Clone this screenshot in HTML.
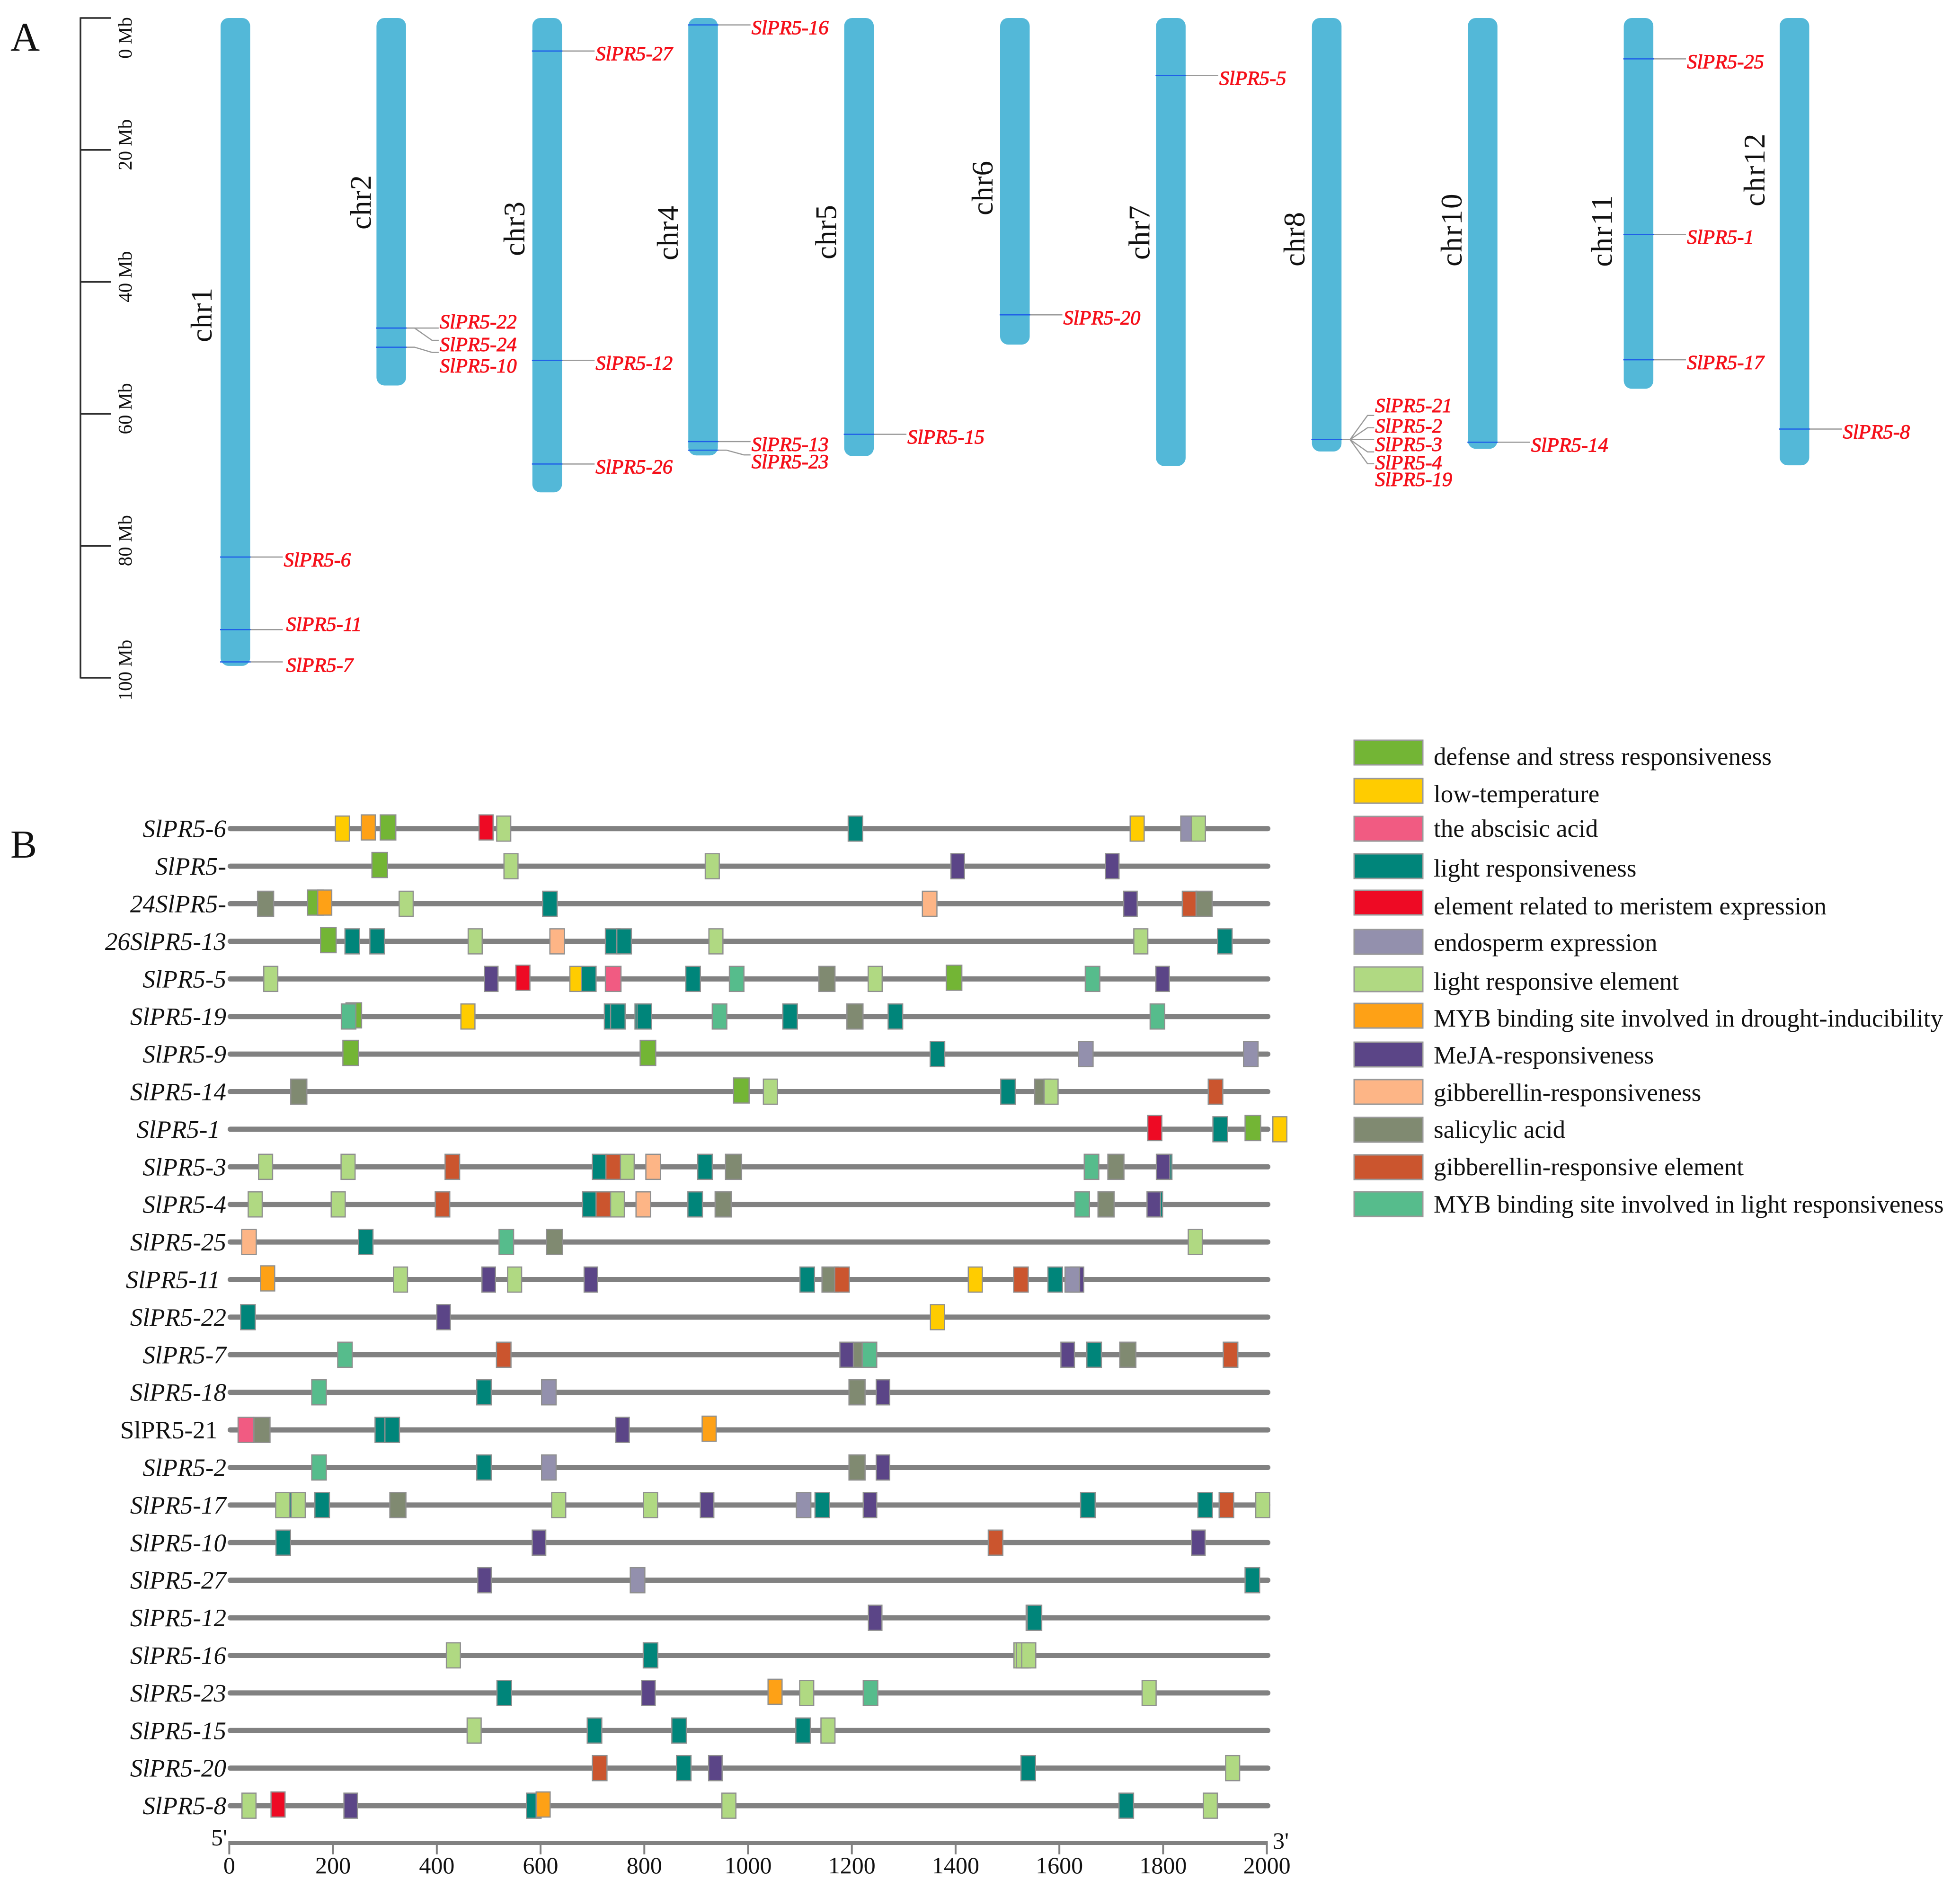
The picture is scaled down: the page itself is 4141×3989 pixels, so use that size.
<!DOCTYPE html>
<html lang="en">
<head>
<meta charset="utf-8">
<title>SlPR5 chromosome map and promoter elements</title>
<style>
html,body{margin:0;padding:0;background:#fff;}
svg{display:block;}
text{font-family:"Liberation Serif","Noto Serif CJK SC",serif;fill:#111;}
</style>
</head>
<body>
<svg id="fig" xmlns="http://www.w3.org/2000/svg" width="4141" height="3989" viewBox="0 0 4141 3989">
  <rect x="0" y="0" width="4141" height="3989" fill="#fff"/>
  <text x="22" y="107" font-size="86">A</text>
  <text x="22" y="1812" font-size="84">B</text>
  <g id="panelA"></g>
  <g id="panelB"></g>
  <g stroke-width="0">
    <g><rect x="2861" y="1564" width="145" height="52" fill="#73b535" stroke="#999" stroke-width="3"/><text x="3029" y="1616" font-size="53">defense and stress responsiveness</text></g>
    <g><rect x="2861" y="1645" width="145" height="52" fill="#ffcc00" stroke="#999" stroke-width="3"/><text x="3029" y="1695" font-size="53">low-temperature</text></g>
    <g><rect x="2861" y="1725" width="145" height="52" fill="#f15b82" stroke="#999" stroke-width="3"/><text x="3029" y="1768" font-size="53">the abscisic acid</text></g>
    <g><rect x="2861" y="1804" width="145" height="52" fill="#00857a" stroke="#999" stroke-width="3"/><text x="3029" y="1852" font-size="53">light responsiveness</text></g>
    <g><rect x="2861" y="1881" width="145" height="52" fill="#ee0a24" stroke="#999" stroke-width="3"/><text x="3029" y="1932" font-size="53">element related to meristem expression</text></g>
    <g><rect x="2861" y="1964" width="145" height="52" fill="#9390ad" stroke="#999" stroke-width="3"/><text x="3029" y="2009" font-size="53">endosperm expression</text></g>
    <g><rect x="2861" y="2043" width="145" height="52" fill="#b0d982" stroke="#999" stroke-width="3"/><text x="3029" y="2091" font-size="53">light responsive element</text></g>
    <g><rect x="2861" y="2120" width="145" height="52" fill="#fea116" stroke="#999" stroke-width="3"/><text x="3029" y="2169" font-size="53">MYB binding site involved in drought-inducibility</text></g>
    <g><rect x="2861" y="2202" width="145" height="52" fill="#5b4587" stroke="#999" stroke-width="3"/><text x="3029" y="2247" font-size="53">MeJA-responsiveness</text></g>
    <g><rect x="2861" y="2281" width="145" height="52" fill="#fdb586" stroke="#999" stroke-width="3"/><text x="3029" y="2326" font-size="53">gibberellin-responsiveness</text></g>
    <g><rect x="2861" y="2361" width="145" height="52" fill="#808a71" stroke="#999" stroke-width="3"/><text x="3029" y="2404" font-size="53">salicylic acid</text></g>
    <g><rect x="2861" y="2440" width="145" height="52" fill="#cb552e" stroke="#999" stroke-width="3"/><text x="3029" y="2483" font-size="53">gibberellin-responsive element</text></g>
    <g><rect x="2861" y="2518" width="145" height="52" fill="#56bc8c" stroke="#999" stroke-width="3"/><text x="3029" y="2562" font-size="53">MYB binding site involved in light responsiveness</text></g>
  </g>
</svg>
<script>
/* ---------- Panel A data ---------- */
const chrNames = ['chr1','chr2','chr3','chr4','chr5','chr6','chr7','chr8','chr10','chr11','chr12'];
const chrLengthMb = [98.2,55.7,71.9,66.3,66.4,49.5,67.9,65.7,65.3,56.2,67.8];
const scaleTicksMb = [0,20,40,60,80,100];
const scaleTickLabels = ['0 Mb','20 Mb','40 Mb','60 Mb','80 Mb','100 Mb'];
const locusNames = ['SlPR5-6','SlPR5-11','SlPR5-7','SlPR5-22','SlPR5-24','SlPR5-10','SlPR5-27','SlPR5-12','SlPR5-26','SlPR5-16','SlPR5-13','SlPR5-23','SlPR5-15','SlPR5-20','SlPR5-5','SlPR5-21','SlPR5-2','SlPR5-3','SlPR5-4','SlPR5-19','SlPR5-14','SlPR5-25','SlPR5-1','SlPR5-17','SlPR5-8'];
const locusChr = [0,0,0,1,1,1,2,2,2,3,3,3,4,5,6,7,7,7,7,7,8,9,9,9,10];
const locusMb = [81.7,92.7,97.6,47.0,47.0,49.9,5.0,51.9,67.6,1.05,64.2,65.5,63.1,45.0,8.7,63.9,63.9,63.9,63.9,63.9,64.3,6.2,32.8,51.8,62.3];

/* ---------- Panel B data ---------- */
const geneLabels = ['SlPR5-6','SlPR5-','24SlPR5-','26SlPR5-13','SlPR5-5','SlPR5-19','SlPR5-9','SlPR5-14','SlPR5-1','SlPR5-3','SlPR5-4','SlPR5-25','SlPR5-11','SlPR5-22','SlPR5-7','SlPR5-18','SlPR5-21','SlPR5-2','SlPR5-17','SlPR5-10','SlPR5-27','SlPR5-12','SlPR5-16','SlPR5-23','SlPR5-15','SlPR5-20','SlPR5-8'];
const elementColors = ['#73b535','#ffcc00','#f15b82','#00857a','#ee0a24','#9390ad','#b0d982','#fea116','#5b4587','#fdb586','#808a71','#cb552e','#56bc8c'];
const elementLengthBp = [30,27,30,28,27,28,27,27,26,28,31,28,28];
const motifCenters = [
 [218,268,306,495,529,1207,1750,1848,1868],
 [290,543,931,1404,1702],
 [70,166,184,341,618,1350,1737,1851,1879],
 [191,237,285,474,632,739,761,938,1757,1919],
 [80,505,566,670,693,740,894,978,1152,1245,1397,1664,1799],
 [240,230,460,737,749,796,800,945,1081,1206,1284,1789],
 [234,807,1365,1651,1969],
 [134,987,1043,1501,1568,1584,1901],
 [1784,1910,1973,2025],
 [70,229,430,714,767,740,817,917,972,1662,1709,1803,1800],
 [50,210,411,695,748,721,798,898,952,1644,1690,1785,1782],
 [38,263,534,627,1862],
 [74,330,500,550,697,1114,1158,1181,1438,1526,1592,1634,1625],
 [36,413,1365],
 [223,529,1215,1190,1234,1616,1667,1732,1930],
 [173,491,616,1210,1260],
 [32,63,295,314,758,925],
 [173,491,616,1210,1260],
 [118,103,133,179,325,635,812,921,1107,1143,1235,1655,1881,1922,1992],
 [104,597,1477,1868],
 [492,787,1972],
 [1245,1549,1552],
 [432,812,1526,1531,1541],
 [530,808,1052,1113,1236,1773],
 [472,704,867,1106,1154],
 [714,876,937,1540,1934],
 [38,94,234,587,605,963,1729,1891]
];
const motifTypes = [
 [1,7,0,4,6,3,1,5,6],
 [0,6,6,8,8],
 [10,0,7,6,3,9,8,11,10],
 [0,3,3,6,9,3,3,6,6,3],
 [6,8,4,1,3,2,3,12,10,6,0,12,8],
 [0,12,1,3,3,3,3,12,3,10,3,12],
 [0,0,3,5,5],
 [10,0,6,3,10,6,11],
 [4,3,0,1],
 [6,6,11,3,6,11,9,3,10,12,10,3,8],
 [6,6,11,3,6,11,9,3,10,12,10,3,8],
 [9,3,12,10,6],
 [7,6,8,6,8,3,10,11,1,11,3,8,5],
 [3,8,1],
 [12,11,10,8,12,8,3,10,11],
 [12,3,5,10,8],
 [2,10,3,3,8,7],
 [12,3,5,10,8],
 [3,6,6,3,10,6,6,8,5,3,8,3,3,11,6],
 [3,8,11,8],
 [8,5,3],
 [8,8,3],
 [6,3,6,6,6],
 [3,8,7,6,12,6],
 [6,3,3,3,6],
 [11,3,8,3,6],
 [6,4,8,3,7,6,3,6]
];
const axisTicksBp = [0,200,400,600,800,1000,1200,1400,1600,1800,2000];

/* ---------- Scales ---------- */
const mbY = mb => 38 + 13.94 * mb;
const chrX = i => 466 + 329.4 * i;
const CHR_W = 62.5;
const bpX = bp => 484.4 + 1.0961 * bp;
const rowY = i => 1750.7 + 79.4 * i;

/* ---------- Label layout (not data) ---------- */
const chrLabelLayout = {chr1:[19,665],chr2:[12,427],chr3:[17,483],chr4:[22,492],chr5:[17,490],chr6:[16,397],chr7:[14,491],chr8:[16,505],chr10:[13,485],chr11:[25,487],chr12:[32,358]};
const labelLayout = {
 'SlPR5-11':{dx:5,base:3},'SlPR5-7':{dx:5,base:21},
 'SlPR5-22':{base:1},'SlPR5-24':{base:49,elbow:26},'SlPR5-10':{base:53.5,elbow:11},
 'SlPR5-23':{base:38.5,elbow:10},
 'SlPR5-21':{base:-58,elbow:-51},'SlPR5-2':{base:-15,elbow:-25},'SlPR5-3':{base:24},'SlPR5-4':{base:62.5,elbow:26},'SlPR5-19':{base:98,elbow:51}
};
const geneLabelShift = {8:-13,12:-13,16:-18};

const NS = 'http://www.w3.org/2000/svg';
const mk = tag => document.createElementNS(NS, tag);
const panelA = document.getElementById('panelA');
const panelB = document.getElementById('panelB');

/* ---------- Panel A: scale bar ---------- */
const scaleAxis = mk('line');


scaleAxis.setAttribute('x1', 170);
scaleAxis.setAttribute('x2', 170);
scaleAxis.setAttribute('y1', mbY(0) - 1.5);
scaleAxis.setAttribute('y2', mbY(100) + 1.5);
scaleAxis.setAttribute('stroke', '#2e2e2e');
scaleAxis.setAttribute('stroke-width', 3.5);
panelA.appendChild(scaleAxis);

scaleTicksMb.forEach((mb, i) => {
  const tick = mk('line');
  
  
  tick.setAttribute('x1', 170);
  tick.setAttribute('x2', 235);
  tick.setAttribute('y1', mbY(mb));
  tick.setAttribute('y2', mbY(mb));
  tick.setAttribute('stroke', '#2e2e2e');
  tick.setAttribute('stroke-width', 3.5);
  panelA.appendChild(tick);
  const label = mk('text');
  
  
  const cy = mbY(mb) + (i === 0 ? 42 : (i === scaleTicksMb.length - 1 ? -16 : -11));
  label.setAttribute('transform', 'translate(278 ' + cy + ') rotate(-90)');
  label.setAttribute('text-anchor', 'middle');
  label.setAttribute('font-size', 41);
  label.textContent = scaleTickLabels[i];
  panelA.appendChild(label);
});

/* ---------- Panel A: chromosomes ---------- */
chrNames.forEach((name, i) => {
  const bar = mk('rect');
  
  
  bar.setAttribute('x', chrX(i));
  bar.setAttribute('y', mbY(0));
  bar.setAttribute('width', CHR_W);
  bar.setAttribute('height', mbY(chrLengthMb[i]) - mbY(0));
  bar.setAttribute('rx', 17);
  bar.setAttribute('fill', '#53b8d8');
  panelA.appendChild(bar);
  const lab = mk('text');
  
  
  const L = chrLabelLayout[name];
  lab.setAttribute('transform', 'translate(' + (chrX(i) - L[0]) + ' ' + L[1] + ') rotate(-90)');
  lab.setAttribute('text-anchor', 'middle');
  lab.setAttribute('font-size', 63);
  lab.setAttribute('letter-spacing', name.length > 4 ? 2.5 : 1);
  lab.textContent = name;
  panelA.appendChild(lab);
});

/* ---------- Panel A: loci ---------- */
locusNames.forEach((name, i) => {
  const c = locusChr[i];
  const y = mbY(locusMb[i]);
  const left = chrX(c);
  const right = left + CHR_W;
  const lay = labelLayout[name] || {};
  const elbow = lay.elbow || 0;
  const leader = mk('polyline');
  
  
  const pts = elbow
    ? [[right, y], [right + 18, y], [right + 55, y + elbow], [right + 69, y + elbow]]
    : [[right, y], [right + 69, y]];
  leader.setAttribute('points', pts.map(p => p.join(',')).join(' '));
  leader.setAttribute('fill', 'none');
  leader.setAttribute('stroke', '#999');
  leader.setAttribute('stroke-width', 2.5);
  panelA.appendChild(leader);
  const band = mk('line');
  
  
  band.setAttribute('x1', left - 1);
  band.setAttribute('x2', right + 1);
  band.setAttribute('y1', y);
  band.setAttribute('y2', y);
  band.setAttribute('stroke', '#1f5fe8');
  band.setAttribute('stroke-width', 2.5);
  panelA.appendChild(band);
  const t = mk('text');
  
  
  t.setAttribute('x', right + 71 + (lay.dx || 0));
  t.setAttribute('y', y + (lay.base === undefined ? 20 : lay.base));
  t.setAttribute('font-size', 42.5);
  t.setAttribute('font-style', 'italic');
  t.setAttribute('stroke', '#f5101a');
  t.setAttribute('stroke-width', 1);
  t.style.fill = '#f5101a';
  t.textContent = name;
  panelA.appendChild(t);
});

/* ---------- Panel B: gene rows ---------- */
geneLabels.forEach((name, r) => {
  const y = rowY(r);
  const row = mk('g');
  
  
  panelB.appendChild(row);
  const line = mk('line');
  
  
  line.setAttribute('x1', bpX(0) + 2);
  line.setAttribute('x2', bpX(2000) + 2);
  line.setAttribute('y1', y);
  line.setAttribute('y2', y);
  line.setAttribute('stroke', '#818181');
  line.setAttribute('stroke-width', 11);
  line.setAttribute('stroke-linecap', 'round');
  row.appendChild(line);
  const lab = mk('text');
  
  
  lab.setAttribute('x', 478 + (geneLabelShift[r] || 0));
  lab.setAttribute('y', y + 18);
  lab.setAttribute('text-anchor', 'end');
  lab.setAttribute('font-size', 53);
  if (r !== 16) lab.setAttribute('font-style', 'italic');
  lab.textContent = name;
  row.appendChild(lab);
  motifCenters[r].forEach((bp, m) => {
    const type = motifTypes[r][m];
    const len = elementLengthBp[type];
    const box = mk('rect');
    
    
    box.setAttribute('x', bpX(bp - len / 2));
    box.setAttribute('y', y - 26.5 - (type === 0 || type === 4 || type === 7 ? 2.5 : 0));
    box.setAttribute('width', bpX(len) - bpX(0));
    box.setAttribute('height', 53);
    box.setAttribute('fill', elementColors[type]);
    box.setAttribute('stroke', '#8f8f8f');
    box.setAttribute('stroke-width', 2.5);
    row.appendChild(box);
  });
});

/* ---------- Panel B: axis ---------- */
const axisY = 3894;
const axisLine = mk('line');


axisLine.setAttribute('x1', bpX(0) - 2);
axisLine.setAttribute('x2', bpX(2000) + 2);
axisLine.setAttribute('y1', axisY);
axisLine.setAttribute('y2', axisY);
axisLine.setAttribute('stroke', '#818181');
axisLine.setAttribute('stroke-width', 8);
panelB.appendChild(axisLine);
axisTicksBp.forEach(bp => {
  const tick = mk('line');
  
  
  tick.setAttribute('x1', bpX(bp));
  tick.setAttribute('x2', bpX(bp));
  tick.setAttribute('y1', axisY);
  tick.setAttribute('y2', axisY + 24);
  tick.setAttribute('stroke', '#818181');
  tick.setAttribute('stroke-width', 4);
  panelB.appendChild(tick);
  const label = mk('text');
  
  
  label.setAttribute('x', bpX(bp));
  label.setAttribute('y', 3958);
  label.setAttribute('text-anchor', 'middle');
  label.setAttribute('font-size', 50);
  label.textContent = String(bp);
  panelB.appendChild(label);
});
const fivePrime = mk('text');


fivePrime.setAttribute('x', 446);
fivePrime.setAttribute('y', 3899);
fivePrime.setAttribute('font-size', 50);
fivePrime.textContent = "5'";
panelB.appendChild(fivePrime);
const threePrime = mk('text');


threePrime.setAttribute('x', 2689);
threePrime.setAttribute('y', 3906);
threePrime.setAttribute('font-size', 50);
threePrime.textContent = "3'";
panelB.appendChild(threePrime);
</script>
</body>
</html>
